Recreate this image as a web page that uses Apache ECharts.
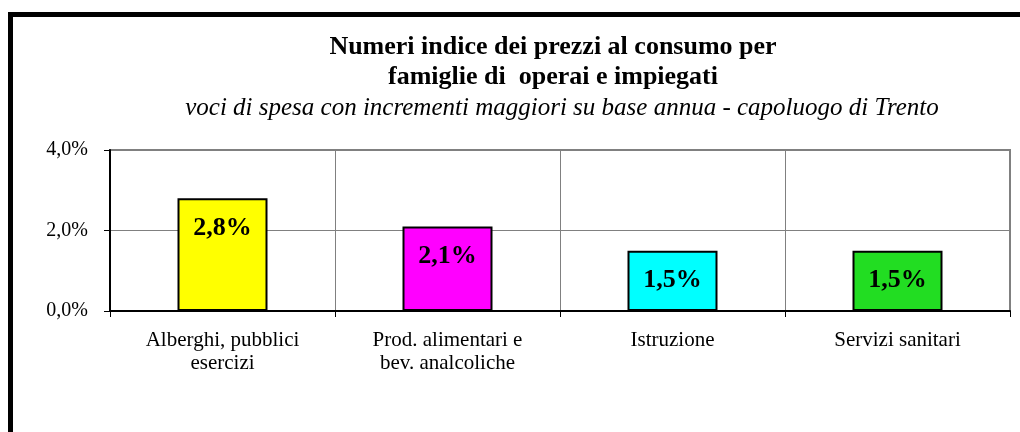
<!DOCTYPE html>
<html>
<head>
<meta charset="utf-8">
<script src="https://cdn.jsdelivr.net/npm/echarts@6/dist/echarts.min.js"></script>
<style>
  html, body { margin: 0; padding: 0; background: #fff; }
  #chart { width: 1020px; height: 432px; }
</style>
</head>
<body>
<div id="chart"></div>
<script>
// Voci di spesa e variazioni percentuali annue
const categories = ['Alberghi, pubblici\nesercizi', 'Prod. alimentari e\nbev. analcoliche', 'Istruzione', 'Servizi sanitari'];
const values = [2.8, 2.1, 1.5, 1.5];
const barColors = ['#FFFF00', '#FF00FF', '#00FFFF', '#22DD22'];

const titleText = 'Numeri indice dei prezzi al consumo per\nfamiglie di  operai e impiegati';
const subtitleText = 'voci di spesa con incrementi maggiori su base annua - capoluogo di Trento';

const fmt = v => v.toFixed(1).replace('.', ',') + '%';
const serif = '"Liberation Serif", "DejaVu Serif", serif';

const chart = echarts.init(document.getElementById('chart'), null, { renderer: 'canvas' });
chart.setOption({
  backgroundColor: '#fff',
  animation: false,
  title: [
    {
      text: titleText,
      left: 548,
      top: 27,
      textAlign: 'center',
      textStyle: { fontFamily: serif, fontWeight: 'bold', fontSize: 26, lineHeight: 30, color: '#000', align: 'center' }
    },
    {
      text: subtitleText,
      left: 557,
      top: 91,
      textAlign: 'center',
      textStyle: { fontFamily: serif, fontStyle: 'italic', fontWeight: 'normal', fontSize: 25, color: '#000' }
    }
  ],
  graphic: [
    {
      type: 'rect',
      shape: { x: 10.5, y: 14.5, width: 1030, height: 440 },
      style: { fill: 'none', stroke: '#000', lineWidth: 5 },
      silent: true
    }
  ],
  grid: {
    left: 110, right: 10, top: 150, bottom: 121,
    show: true, borderColor: '#808080', borderWidth: 2, backgroundColor: 'transparent'
  },
  xAxis: {
    type: 'category',
    data: categories,
    axisLine: { lineStyle: { color: '#000', width: 2 } },
    axisTick: { show: true, length: 6, lineStyle: { color: '#000', width: 1 } },
    splitLine: { show: true, lineStyle: { color: '#808080', width: 1 } },
    axisLabel: { fontFamily: serif, fontSize: 21, color: '#000', lineHeight: 23, margin: 18 }
  },
  yAxis: {
    type: 'value',
    min: 0, max: 4, interval: 2,
    axisLine: { show: true, lineStyle: { color: '#000', width: 2 } },
    axisTick: { show: true, length: 6, lineStyle: { color: '#000', width: 1 } },
    splitLine: { show: true, lineStyle: { color: '#808080', width: 1 } },
    axisLabel: { fontFamily: serif, fontSize: 20, color: '#000', margin: 22, formatter: fmt }
  },
  series: [{
    type: 'bar',
    data: values.map((v, i) => ({ value: v, itemStyle: { color: barColors[i] } })),
    barWidth: '40%',
    itemStyle: { borderColor: '#000', borderWidth: 2 },
    label: {
      show: true,
      position: 'insideTop',
      distance: 17,
      formatter: p => fmt(p.value),
      fontFamily: serif, fontWeight: 'bold', fontSize: 26, color: '#000'
    }
  }]
});
</script>
</body>
</html>
